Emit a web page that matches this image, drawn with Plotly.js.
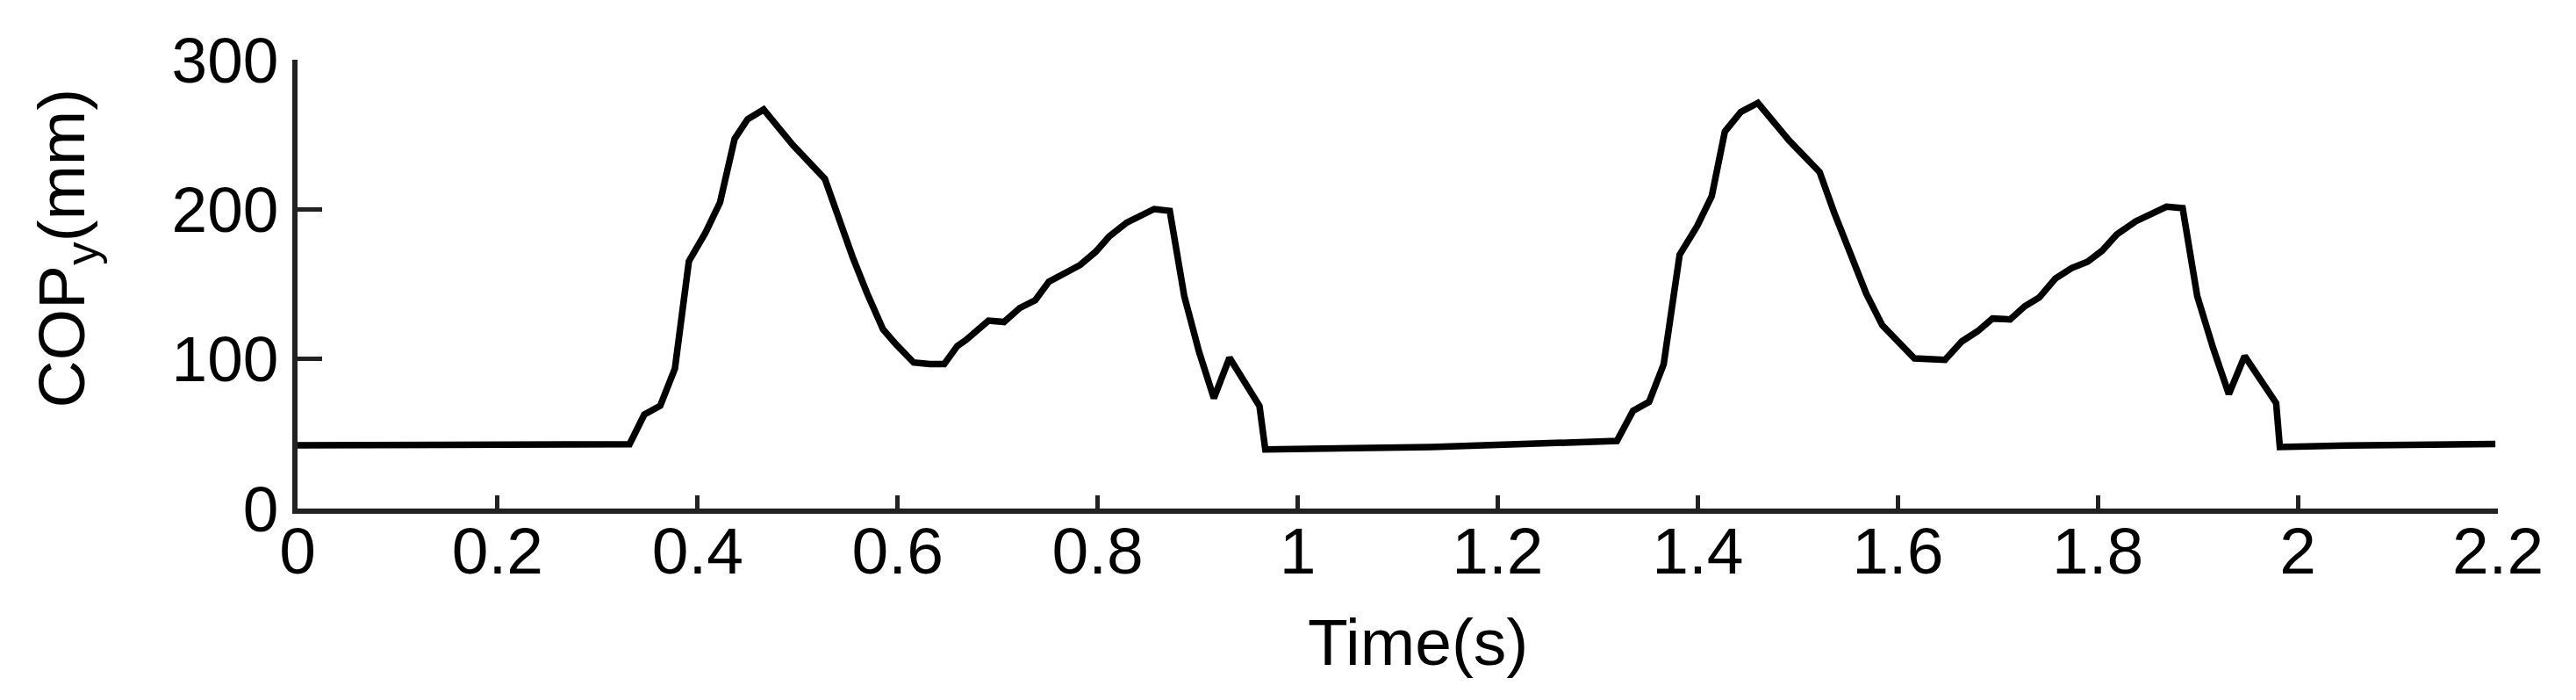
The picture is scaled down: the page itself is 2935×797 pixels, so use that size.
<!DOCTYPE html>
<html>
<head>
<meta charset="utf-8">
<script src="https://cdn.plot.ly/plotly-3.0.1.min.js"></script>
<style>
  html, body { margin: 0; padding: 0; background: #ffffff; }
  #chart { width: 2935px; height: 797px; }
</style>
</head>
<body>
<div id="chart"></div>
<script>
// Time (s)
const time = [
  0.000, 0.332, 0.3467, 0.3627, 0.3773, 0.3913, 0.4079, 0.4224, 0.437, 0.450,
  0.466, 0.4952, 0.5272, 0.5403, 0.5549, 0.5694, 0.5854, 0.5985, 0.616, 0.632,
  0.6466, 0.6597, 0.6684, 0.6908, 0.7064, 0.722, 0.7376, 0.7513, 0.7669, 0.7825,
  0.798, 0.8117, 0.8292, 0.8448, 0.8565, 0.8721, 0.8866, 0.9014, 0.9162, 0.9318,
  0.9462, 0.9618, 0.9676, 1.1333, 1.3192,
  1.3353, 1.3513, 1.3659, 1.3819, 1.3994, 1.414, 1.4271, 1.4431, 1.4601, 1.4913,
  1.5219, 1.5364, 1.5525, 1.5685, 1.5845, 1.6166, 1.6472, 1.664, 1.680, 1.6947,
  1.7123, 1.7269, 1.7415, 1.7576, 1.7737, 1.7898, 1.8044, 1.819, 1.838, 1.8556,
  1.8687, 1.8848, 1.8994, 1.9155, 1.931, 1.9468, 1.9624, 1.9783, 1.982, 2.048,
  2.1975
];
// COPy (mm)
const copY = [
  42.2, 43.0, 62.8, 68.7, 93.5, 165.3, 184.4, 204.6, 247.1, 260.2,
  266.7, 243.0, 220.4, 194.5, 168.3, 144.0, 119.8, 109.7, 97.6, 96.6,
  96.6, 108.7, 112.7, 125.6, 124.7, 134.0, 139.3, 151.7, 157.5, 162.8,
  171.6, 182.0, 191.2, 196.7, 200.2, 199.0, 141.9, 104.7, 73.8, 100.8,
  85.1, 68.5, 39.5, 41.1, 45.2,
  65.3, 71.3, 96.4, 169.7, 188.8, 208.8, 252.0, 265.1, 271.1, 246.0,
  224.9, 197.8, 170.7, 143.6, 122.5, 100.4, 99.4, 111.7, 118.6, 127.0,
  126.4, 135.2, 141.1, 153.8, 160.7, 165.0, 172.4, 183.2, 192.0, 197.8,
  201.8, 200.8, 142.0, 106.8, 76.5, 101.9, 86.1, 70.5, 41.1, 42.1,
  43.1
];
const xTicks = [0, 0.2, 0.4, 0.6, 0.8, 1, 1.2, 1.4, 1.6, 1.8, 2, 2.2];
const xTickText = ['0', '0.2', '0.4', '0.6', '0.8', '1', '1.2', '1.4', '1.6', '1.8', '2', '2.2'];
const yTicks = [0, 100, 200, 300];
const yTickText = ['0', '100', '200', '300'];
const xTitle = 'Time(s)';
const yTitle = 'COP<sub>y</sub>(mm)';

const FONT = 'Liberation Sans, Arial, Helvetica, sans-serif';

const trace = {
  x: time,
  y: copY,
  type: 'scatter',
  mode: 'lines',
  line: { color: '#000000', width: 7.5 },
  hoverinfo: 'x+y',
  showlegend: false
};

const layout = {
  width: 2935,
  height: 797,
  margin: { l: 339, r: 89, t: 68, b: 218, pad: 0 },
  paper_bgcolor: '#ffffff',
  plot_bgcolor: '#ffffff',
  showlegend: false,
  font: { family: FONT, color: '#000000' },
  xaxis: {
    range: [0, 2.2],
    tickmode: 'array',
    tickvals: xTicks,
    ticktext: xTickText,
    ticks: 'inside',
    ticklen: 15,
    tickwidth: 5,
    tickcolor: '#222222',
    showline: true,
    linecolor: '#222222',
    linewidth: 6,
    showgrid: false,
    zeroline: false,
    tickfont: { family: FONT, size: 75, color: '#000000' },
    ticklabelstandoff: -22
  },
  yaxis: {
    range: [0, 300],
    tickmode: 'array',
    tickvals: yTicks,
    ticktext: yTickText,
    ticks: 'inside',
    ticklen: 28,
    tickwidth: 5,
    tickcolor: '#222222',
    showline: true,
    linecolor: '#222222',
    linewidth: 6,
    showgrid: false,
    zeroline: false,
    tickfont: { family: FONT, size: 73, color: '#000000' },
    ticklabelstandoff: 1
  },
  annotations: [
    {
      text: xTitle,
      xref: 'paper', yref: 'paper',
      x: 0.509, y: -0.298,
      xanchor: 'center', yanchor: 'middle',
      showarrow: false,
      font: { family: FONT, size: 75, color: '#000000' }
    },
    {
      text: yTitle,
      xref: 'paper', yref: 'paper',
      x: -0.1053, y: 0.5805,
      xanchor: 'center', yanchor: 'middle',
      textangle: -90,
      showarrow: false,
      font: { family: FONT, size: 75, color: '#000000' }
    }
  ]
};

Plotly.newPlot('chart', [trace], layout, { displayModeBar: false, staticPlot: true });
</script>
</body>
</html>
